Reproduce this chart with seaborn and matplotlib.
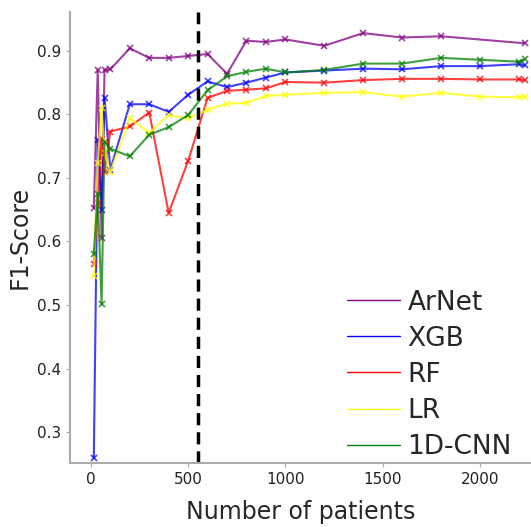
import matplotlib
matplotlib.use("Agg")
import matplotlib.pyplot as plt
import pandas as pd
import seaborn as sns
from matplotlib.lines import Line2D

# patients used for training
X_ALL = [15, 35, 55, 70, 100, 200, 300, 400, 500, 600, 700, 800, 900,
         1000, 1200, 1400, 1600, 1800, 2000, 2200, 2230]
X_ARNET = [15, 35, 55, 70, 100, 200, 300, 400, 500, 600, 700, 800, 900,
           1000, 1200, 1400, 1600, 1800, 2230]

arnet = [0.653, 0.870, 0.606, 0.870, 0.871, 0.904, 0.889, 0.889, 0.892, 0.895,
         0.864, 0.916, 0.914, 0.918, 0.908, 0.928, 0.921, 0.923, 0.912]
xgb = [0.259, 0.760, 0.650, 0.826, 0.713, 0.816, 0.816, 0.804, 0.831, 0.852,
       0.843, 0.850, 0.858, 0.866, 0.869, 0.872, 0.871, 0.876, 0.876, 0.879, 0.877]
rf = [0.565, 0.660, 0.761, 0.709, 0.773, 0.781, 0.803, 0.645, 0.727, 0.826,
      0.837, 0.839, 0.841, 0.851, 0.850, 0.854, 0.856, 0.856, 0.855, 0.855, 0.854]
lr = [0.545, 0.723, 0.810, 0.740, 0.710, 0.794, 0.771, 0.799, 0.794, 0.807,
      0.817, 0.818, 0.829, 0.831, 0.834, 0.835, 0.828, 0.834, 0.828, 0.827, 0.828]
cnn = [0.581, 0.675, 0.501, 0.757, 0.746, 0.734, 0.768, 0.780, 0.799, 0.838,
       0.860, 0.867, 0.872, 0.866, 0.870, 0.880, 0.880, 0.889, 0.886, 0.883, 0.887]

MODELS = ["ArNet", "XGB", "RF", "LR", "1D-CNN"]
COLORS = ["purple", "blue", "red", "yellow", "green"]
CUTOFF = 553

series = {"ArNet": (X_ARNET, arnet), "XGB": (X_ALL, xgb), "RF": (X_ALL, rf),
          "LR": (X_ALL, lr), "1D-CNN": (X_ALL, cnn)}

sns.set_style("ticks")
plt.rcParams["font.family"] = ["DejaVu Sans"]

fig = plt.figure(figsize=(5.31, 5.27), dpi=100)
ax = fig.add_axes([0.132, 0.121, 0.868, 0.856])

for name, color in zip(MODELS, COLORS):
    xs, ys = series[name]
    df = pd.DataFrame({"patients": xs, "f1": ys})
    sns.lineplot(data=df, x="patients", y="f1", ax=ax, color=color, marker="x",
                 markersize=5, markeredgewidth=1.2, markeredgecolor=color,
                 linewidth=1.5, alpha=0.75)

ax.axvline(CUTOFF, color="black", linestyle="--", linewidth=2.5, dashes=(3.5, 2))

ax.set_xlim(-107, 2263)
ax.set_ylim(0.251, 0.961)
ax.set_xticks([0, 500, 1000, 1500, 2000])
ax.set_yticks([0.3, 0.4, 0.5, 0.6, 0.7, 0.8, 0.9])
ax.tick_params(labelsize=11, colors="#aaaaaa", labelcolor="#222222", length=3)
for side in ["left", "bottom"]:
    ax.spines[side].set_color("#aaaaaa")
    ax.spines[side].set_linewidth(1.5)
sns.despine(ax=ax)

ax.set_xlabel("Number of patients", fontsize=17, labelpad=9)
ax.set_ylabel("F1-Score", fontsize=17)

handles = [Line2D([], [], color=c, linewidth=1.0) for c in COLORS]
ax.legend(handles, MODELS, loc="lower right", frameon=False, fontsize=19,
          handlelength=2.0, handletextpad=0.3, labelspacing=0.38,
          bbox_to_anchor=(1.01, -0.045))

fig.savefig("out.png", dpi=100)
